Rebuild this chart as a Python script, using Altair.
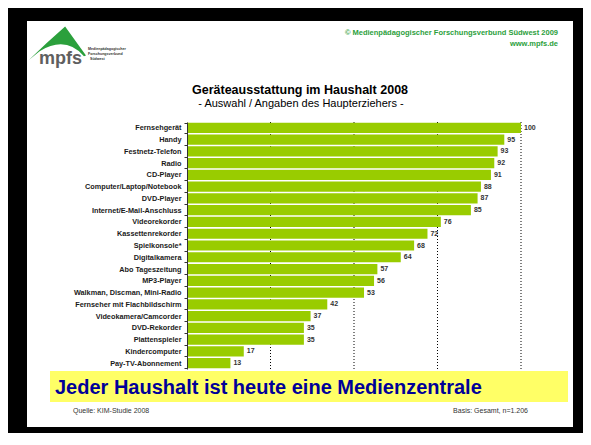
import altair as alt
import pandas as pd

# ---- data ----
categories = [
    "Fernsehgerät", "Handy", "Festnetz-Telefon", "Radio", "CD-Player",
    "Computer/Laptop/Notebook", "DVD-Player", "Internet/E-Mail-Anschluss",
    "Videorekorder", "Kassettenrekorder", "Spielkonsole*", "Digitalkamera",
    "Abo Tageszeitung", "MP3-Player", "Walkman, Discman, Mini-Radio",
    "Fernseher mit Flachbildschirm", "Videokamera/Camcorder", "DVD-Rekorder",
    "Plattenspieler", "Kindercomputer", "Pay-TV-Abonnement",
]
values = [100, 95, 93, 92, 91, 88, 87, 85, 76, 72, 68, 64, 57, 56, 53, 42, 37, 35, 35, 17, 13]
tick_values = [0, 25, 50, 75, 100]
grid_values = [25, 50, 75, 100]

title_text = "Geräteausstattung im Haushalt 2008"
subtitle_text = "- Auswahl / Angaben des Haupterziehers -"
copyright_text = "© Medienpädagogischer Forschungsverbund Südwest 2009"
url_text = "www.mpfs.de"
logo_text = "mpfs"
logo_small = ["Medienpädagogischer", "Forschungsverbund", "Südwest"]
banner_text = "Jeder Haushalt ist heute eine Medienzentrale"
source_text = "Quelle: KIM-Studie 2008"
basis_text = "Basis: Gesamt, n=1.206"

df = pd.DataFrame({"item": categories, "value": values})
gdf = pd.DataFrame({"g": grid_values})
dummy = pd.DataFrame({"d": [0]})

W, H = 334, 247
FONT = "Liberation Sans"
GREEN = "#99CC00"
LOGO_GREEN = "#2BA03C"

xscale = alt.Scale(domain=[0, 100], nice=False, zero=True)

# ---- slide decoration ----
slide = alt.Chart(dummy).mark_rect(color="white").encode(
    x=alt.value(-160), x2=alt.value(386), y=alt.value(-101), y2=alt.value(305))
banner = alt.Chart(dummy).mark_rect(color="#FFFF66").encode(
    x=alt.value(-137), x2=alt.value(381), y=alt.value(249), y2=alt.value(280))

grid = alt.Chart(gdf).mark_rule(color="black", strokeDash=[1, 2], strokeWidth=1).encode(
    x=alt.X("g:Q", scale=xscale, axis=None))

bars = alt.Chart(df).mark_bar(color=GREEN).encode(
    x=alt.X("value:Q", scale=xscale,
            axis=alt.Axis(values=tick_values, labels=False, title=None, grid=False,
                          domainColor="#888888", domainWidth=2, tickColor="#333333",
                          tickSize=4, zindex=1)),
    y=alt.Y("item:N", sort=None,
            scale=alt.Scale(paddingInner=0.13, paddingOuter=0.07),
            axis=alt.Axis(title=None, labelFont=FONT, labelFontWeight="bold",
                          labelFontSize=7.3, labelColor="#1a1a1a", labelPadding=3,
                          labelLimit=0, tickBand="extent", tickSize=3,
                          tickColor="#333333", domainColor="#333333", grid=False,
                          zindex=1)),
)

labels = alt.Chart(df).mark_text(align="left", baseline="middle", dx=3, font=FONT,
                                 fontSize=7, fontWeight="bold", color="#333333").encode(
    x=alt.X("value:Q", scale=xscale),
    y=alt.Y("item:N", sort=None),
    text=alt.Text("value:Q"),
)


def txt(s, x, y, size, weight="normal", color="#000000", align="left", font=FONT):
    return alt.Chart(dummy).mark_text(align=align, baseline="middle", font=font,
                                      fontSize=size, fontWeight=weight, color=color).encode(
        x=alt.value(x), y=alt.value(y), text=alt.value(s))


title = txt(title_text, 113, -32, 12.5, "bold", "#000000", "center")
subtitle = txt(subtitle_text, 114, -18, 11, "normal", "#000000", "center")
copy1 = txt(copyright_text, 371, -89, 7.5, "bold", LOGO_GREEN, "right")
copy2 = txt(url_text, 371, -78, 7.5, "bold", LOGO_GREEN, "right")
mpfs = txt(logo_text, -148, -63, 18, "bold", "#5f5f5f", "left")
small1 = txt(logo_small[0], -99, -73, 3.6, "bold", "#333333", "left")
small2 = txt(logo_small[1], -99, -68, 3.6, "bold", "#333333", "left")
small3 = txt(logo_small[2], -97, -63, 3.6, "bold", "#333333", "left")
bann = txt(banner_text, -132, 266, 20, "bold", "#000099", "left")
src = txt(source_text, -114, 289, 7, "normal", "#333333", "left")
basis = txt(basis_text, 341, 289, 7, "normal", "#333333", "right")

logo_path = "M -0.97 0.55 Q -0.35 -0.05 0.28 -0.6 L 1 0.4 L 0.93 0.42 Q 0.3 -0.3 -0.6 0.25 Z"
logo = alt.Chart(dummy).mark_point(shape=logo_path, size=3364, filled=True, opacity=1,
                                    color=LOGO_GREEN, strokeWidth=0).encode(
    x=alt.value(-130), y=alt.value(-78))

chart = alt.layer(
    slide, banner, grid, bars, labels, title, subtitle, copy1, copy2,
    logo, mpfs, small1, small2, small3, bann, src, basis,
).properties(
    width=W, height=H,
    autosize=alt.AutoSizeParams(type="none"),
    padding={"left": 179, "top": 114, "right": 62, "bottom": 64},
).configure(background="black").configure_view(stroke=None)

chart.save("out.html", embed_options={"renderer": "svg", "actions": False})
